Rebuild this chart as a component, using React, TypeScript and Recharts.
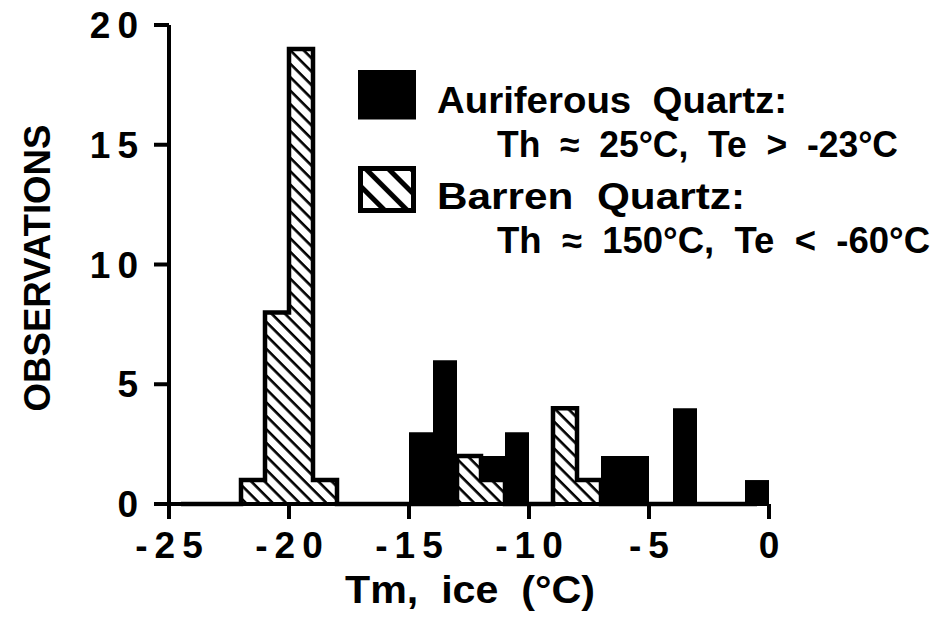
import React from 'react';
import { ComposedChart, Bar, Line, XAxis, YAxis, Legend, Label } from 'recharts';

// histogram bins, 1 °C wide, given by their mid points
const binMids = [
  -24.5, -23.5, -22.5, -21.5, -20.5, -19.5, -18.5, -17.5, -16.5, -15.5, -14.5, -13.5, -12.5,
  -11.5, -10.5, -9.5, -8.5, -7.5, -6.5, -5.5, -4.5, -3.5, -2.5, -1.5, -0.5,
];
const auriferous = [0, 0, 0, 0, 0, 0, 0, 0, 0, 0, 3, 6, 0, 2, 3, 0, 0, 0, 2, 2, 0, 4, 0, 0, 1];
const barren = [0, 0, 0, 1, 8, 19, 1, 0, 0, 0, 0, 0, 2, 1, 0, 0, 4, 1, 0, 0, 0, 0, 0, 0, 0];

const xTicks = [-25, -20, -15, -10, -5, 0];
const yTicks = [0, 5, 10, 15, 20];

const seriesNames = ['Auriferous  Quartz:', 'Barren  Quartz:'];
const seriesNotes = ['Th  \u2248  25°C,  Te  >  -23°C', 'Th  \u2248  150°C,  Te  <  -60°C'];

const data = binMids.map((x, i) => ({ x, auriferous: auriferous[i], barren: barren[i] }));

const FONT = "'Liberation Sans', Arial, Helvetica, sans-serif";

// widths of the legend lines in the figure
const nameWidths = [350, 308];
const noteWidths = [401, 433];

const XTick = ({ x, y, payload }: any) => (
  <text x={x + 3.5} y={y + 37} textAnchor="middle" fontFamily={FONT} fontWeight="bold"
    fontSize={37} letterSpacing={7} fill="#000">
    {payload.value}
  </text>
);

const YTick = ({ x, y, payload }: any) => (
  <text x={x - 7} y={y + 13} textAnchor="end" fontFamily={FONT} fontWeight="bold"
    fontSize={37} letterSpacing={7} fill="#000">
    {payload.value}
  </text>
);

const LegendContent = ({ payload }: any) => {
  const items = (payload || []).filter((p: any) => p.type !== 'none');
  return (
    <svg width={580} height={205} style={{ overflow: 'visible' }}>
      <defs>
        <pattern id="hatchLegend" width="16" height="16" patternUnits="userSpaceOnUse"
          patternTransform="rotate(45)">
          <rect width="16" height="16" fill="#fff" />
          <rect y="0" width="16" height="5" fill="#000" />
        </pattern>
      </defs>
      {items.map((p: any, i: number) => {
        const top = i * 96;
        const hatched = p.dataKey === 'barren';
        return (
          <g key={p.dataKey}>
            <rect x={7.5} y={top + 10.5} width={53} height={hatched ? 42 : 44.5}
              fill={hatched ? 'url(#hatchLegend)' : '#000'} stroke="#000" strokeWidth={5} />
            <text x={84} y={top + 51} fontFamily={FONT} fontWeight="bold" fontSize={36}
              textLength={nameWidths[i]} lengthAdjust="spacingAndGlyphs"
              style={{ whiteSpace: 'pre' }}>{seriesNames[i]}</text>
            <text x={144} y={top + 95} fontFamily={FONT} fontWeight="bold" fontSize={36}
              textLength={noteWidths[i]} lengthAdjust="spacingAndGlyphs"
              style={{ whiteSpace: 'pre' }}>{seriesNotes[i]}</text>
          </g>
        );
      })}
    </svg>
  );
};

export default function App() {
  return (
    <div style={{ position: 'absolute', left: 0, top: 0, background: '#fff' }}>
      <ComposedChart width={936} height={618} data={data}
        margin={{ top: 25, right: 167, bottom: 0, left: 0 }}
        barCategoryGap={0} barGap="-100%">
        <defs>
          <pattern id="hatch" width="9.5" height="9.5" patternUnits="userSpaceOnUse"
            patternTransform="rotate(45)">
            <rect width="9.5" height="9.5" fill="#fff" />
            <rect y="0" width="9.5" height="2.6" fill="#000" />
          </pattern>
        </defs>
        <XAxis dataKey="x" type="number" domain={[-25, 0]} ticks={xTicks} height={114}
          axisLine={{ stroke: '#000', strokeWidth: 4 }} tickLine={{ stroke: '#000', strokeWidth: 4 }}
          tickSize={15} tick={<XTick />} interval={0}>
          <Label content={() => (
            <text x={470} y={603} textAnchor="middle" fontFamily={FONT} fontWeight="bold"
              fontSize={38} textLength={250} lengthAdjust="spacingAndGlyphs"
              style={{ whiteSpace: 'pre' }}>Tm,  ice  (°C)</text>
          )} />
        </XAxis>
        <YAxis type="number" domain={[0, 20]} ticks={yTicks} width={169}
          axisLine={{ stroke: '#000', strokeWidth: 4 }} tickLine={{ stroke: '#000', strokeWidth: 4 }}
          tickSize={15} tick={<YTick />} interval={0}>
          <Label content={() => (
            <text x={37} y={268} transform="rotate(-90 37 268)" textAnchor="middle"
              dominantBaseline="central" fontFamily={FONT} fontWeight="bold" fontSize={37}
              textLength={287} lengthAdjust="spacingAndGlyphs">
              OBSERVATIONS
            </text>
          )} />
        </YAxis>
        <Legend layout="vertical" align="center" verticalAlign="middle"
          wrapperStyle={{ left: 353, top: 62, width: 580, height: 205 }}
          content={<LegendContent />} />
        <Bar dataKey="auriferous" name={seriesNames[0]} fill="#000" isAnimationActive={false} />
        <Bar dataKey="barren" name={seriesNames[1]} fill="url(#hatch)" isAnimationActive={false} />
        <Line dataKey="barren" type="step" stroke="#000" strokeWidth={4.5} strokeLinejoin="miter"
          dot={false} activeDot={false} legendType="none" isAnimationActive={false} />
      </ComposedChart>
    </div>
  );
}
